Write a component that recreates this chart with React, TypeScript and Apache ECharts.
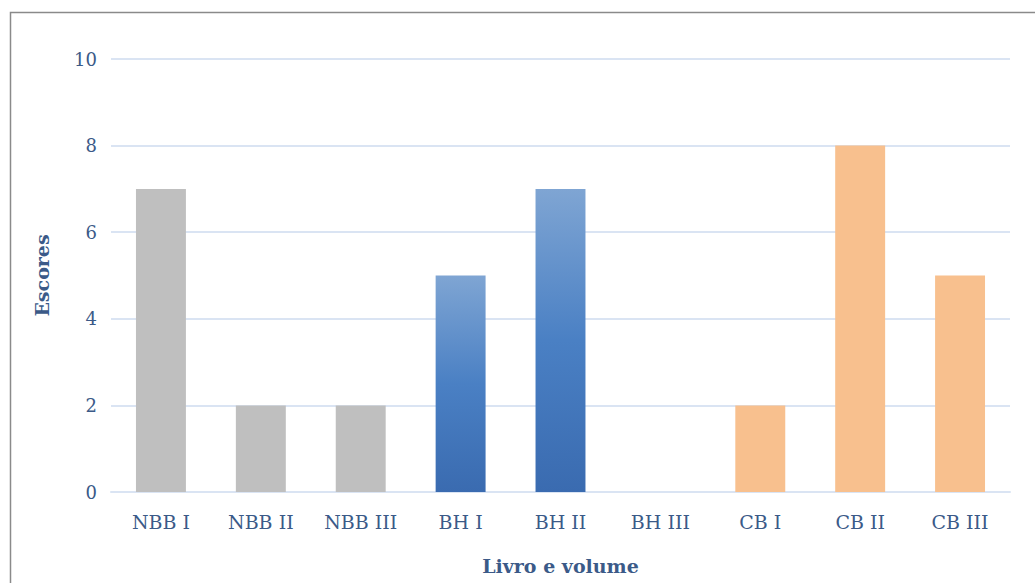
import React, { useEffect, useRef } from "react";
import * as echarts from "echarts";

const categories = ["NBB I", "NBB II", "NBB III", "BH I", "BH II", "BH III", "CB I", "CB II", "CB III"];
const scores = [7, 2, 2, 5, 7, 0, 2, 8, 5];
const groups = ["gray", "gray", "gray", "blue", "blue", "blue", "orange", "orange", "orange"];
const yTicks = [0, 2, 4, 6, 8, 10];

const textColor = "#3b5a88";
const font = "'DejaVu Serif', 'Liberation Serif', serif";

function colorFor(g: string): any {
  if (g === "gray") return "#bfbfbf";
  if (g === "orange") return "#f8c08e";
  return new echarts.graphic.LinearGradient(0, 0, 0, 1, [
    { offset: 0, color: "#7fa5d3" },
    { offset: 0.5, color: "#4a80c4" },
    { offset: 1, color: "#3a6bb0" },
  ]);
}

export default function App() {
  const ref = useRef<HTMLDivElement>(null);
  useEffect(() => {
    const chart = echarts.init(ref.current!, null, { renderer: "svg" });
    chart.setOption({
      animation: false,
      backgroundColor: "#ffffff",
      graphic: [
        {
          type: "rect",
          shape: { x: 10.5, y: 12.5, width: 1040, height: 600 },
          style: { fill: "none", stroke: "#8a8a8a", lineWidth: 1.5 },
          silent: true,
        },
      ],
      grid: { left: 111, right: 25, top: 59, bottom: 91, containLabel: false },
      xAxis: {
        type: "category",
        data: categories,
        axisLine: { show: true, lineStyle: { color: "#dae4f3", width: 2 } },
        axisTick: { show: false },
        axisLabel: { color: textColor, fontFamily: font, fontSize: 19, margin: 20 },
        name: "Livro e volume",
        nameLocation: "middle",
        nameGap: 64,
        nameTextStyle: { color: textColor, fontFamily: font, fontSize: 19, fontWeight: "bold" },
      },
      yAxis: {
        type: "value",
        min: yTicks[0],
        max: yTicks[yTicks.length - 1],
        interval: 2,
        axisLine: { show: false },
        axisTick: { show: false },
        splitLine: { lineStyle: { color: "#dae4f3", width: 2 } },
        axisLabel: { color: textColor, fontFamily: font, fontSize: 18, margin: 14 },
        name: "Escores",
        nameLocation: "middle",
        nameGap: 60,
        nameRotate: 90,
        nameTextStyle: { color: textColor, fontFamily: font, fontSize: 19, fontWeight: "bold" },
      },
      series: [
        {
          type: "bar",
          barWidth: "50%",
          data: scores.map((v, i) => ({ value: v, itemStyle: { color: colorFor(groups[i]) } })),
        },
      ],
    });
    return () => chart.dispose();
  }, []);
  return (
    <div
      ref={ref}
      style={{ position: "fixed", left: 0, top: 0, width: 1035, height: 583 }}
    />
  );
}
